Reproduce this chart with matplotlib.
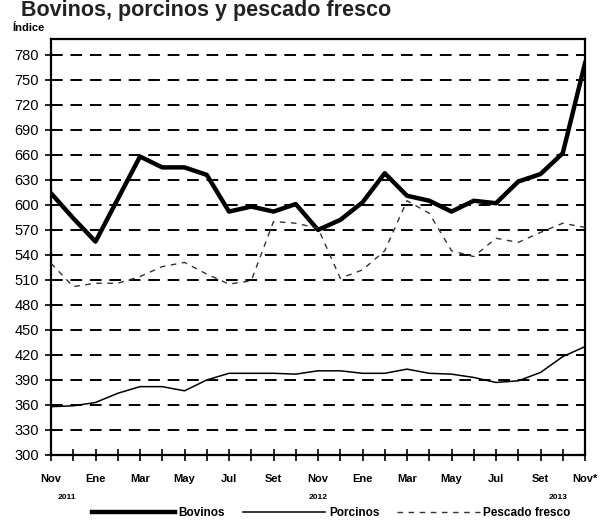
import numpy as np
import matplotlib
matplotlib.use('Agg')
import matplotlib.pyplot as plt

plt.rcParams['font.family'] = ['Liberation Sans', 'DejaVu Sans']

meses = ['Nov', 'Ene', 'Mar', 'May', 'Jul', 'Set', 'Nov', 'Ene', 'Mar', 'May', 'Jul', 'Set', 'Nov*']
anios = ['2011', '2012', '2013']
anio_pos = [0.7, 12.0, 22.8]
yticks = list(range(300, 781, 30))

bovinos = [614, 584, 556, 607, 658, 645, 645, 636, 592, 598, 592, 601,
           570, 582, 603, 638, 611, 605, 592, 605, 602, 628, 637, 662, 770]
porcinos = [358, 359, 363, 374, 382, 382, 377, 390, 398, 398, 398, 397,
            401, 401, 398, 398, 403, 398, 397, 393, 387, 389, 399, 418, 430]
pescado = [530, 502, 506, 506, 514, 526, 531, 517, 505, 509, 580, 578,
           572, 512, 522, 545, 605, 590, 545, 538, 560, 555, 567, 578, 573]

x = np.arange(len(bovinos))

fig = plt.figure(figsize=(6.01, 5.22), dpi=100)
ax = fig.add_axes([51/601, 67/522, 534/601, 416/522])

ax.plot(x, bovinos, color='black', lw=3.2, label='Bovinos', zorder=4)
ax.plot(x, porcinos, color='black', lw=1.1, label='Porcinos', zorder=4)
ax.plot(x, pescado, color='#333333', lw=1.0, dashes=(4, 4), label='Pescado fresco', zorder=4)

ax.set_xlim(0, 24)
ax.set_ylim(300, 799)
ax.set_yticks(yticks)
ax.set_xticks(x)
ax.set_xticklabels([meses[i // 2] if i % 2 == 0 else '' for i in x])
ax.yaxis.grid(True, color='black', lw=1.4, dashes=(6, 4))
ax.tick_params(axis='y', direction='inout', length=9, width=1.2, pad=4, labelsize=10.5)
ax.tick_params(axis='x', direction='inout', length=8, width=1.2, pad=10, labelsize=8)
for lab in ax.get_xticklabels():
    lab.set_fontweight('bold')
for s in ax.spines.values():
    s.set_linewidth(1.6)

for a, p in zip(anios, anio_pos):
    ax.text(p, -0.101, a, transform=ax.get_xaxis_transform(), ha='center', va='center',
            fontsize=6, fontweight='bold')

ax.legend(loc='center', bbox_to_anchor=(0.525, -0.139), ncol=3, frameon=False,
          handlelength=7.0, handletextpad=0.3, columnspacing=1.5,
          prop={'size': 8.5, 'weight': 'bold'})

fig.text(21/601, 1 - 16/522, 'Bovinos, porcinos y pescado fresco', fontsize=15.5,
         fontweight='bold', va='baseline', ha='left', color='#222222')
fig.text(12/601, 1 - 31/522, 'Índice', fontsize=8, fontweight='bold', va='baseline', ha='left')

fig.savefig('out.png', dpi=100)
